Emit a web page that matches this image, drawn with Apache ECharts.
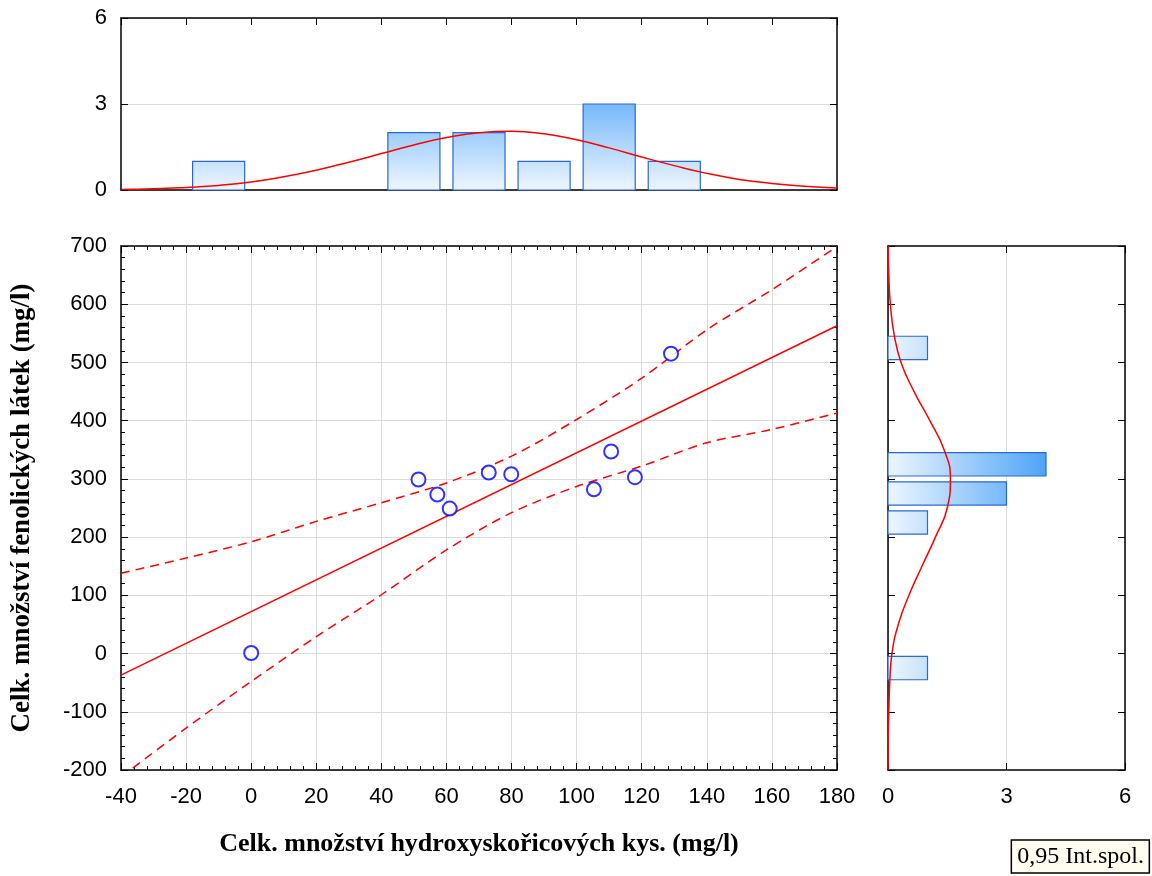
<!DOCTYPE html>
<html>
<head>
<meta charset="utf-8">
<script src="https://cdn.jsdelivr.net/npm/echarts@6/dist/echarts.min.js"></script>
<style>
  html, body { margin: 0; padding: 0; background: #fff; }
  #main { width: 1152px; height: 876px; }
</style>
</head>
<body>
<div id="main"></div>
<script>
// scatter points: hydroxycinnamic acids (x) vs phenolics (y)
var pointX = [0, 51.4, 57.2, 61.0, 73.0, 79.9, 105.3, 110.6, 117.9, 129.0];
var pointY = [1, 299, 273, 249, 311, 308, 282, 347, 303, 515];

// regression line and 0.95 confidence band, read at x = -40..180
var fitX = [-40, 180];
var fitY = [-37, 563];
var bandX = [-40, -20, 0, 20, 40, 60, 80, 100, 120, 140, 160, 180];
var bandUpper = [138, 164, 192, 227, 259, 293, 339, 402, 473, 556, 625, 699];
var bandLower = [-212, -128, -48, 29, 101, 178, 242, 287, 322, 362, 385, 413];

// histogram of x (top)
var histXCenter = [-10, 50, 70, 90, 110, 130];
var histXCount = [1, 2, 2, 1, 3, 1];
var curveX = [-40, -30, -20, -10, 0, 10, 20, 30, 40, 50, 60, 70, 80, 90, 100, 110, 120, 130, 140, 150, 160, 170, 180];
var curveXVal = [0.02, 0.04, 0.09, 0.16, 0.28, 0.46, 0.69, 0.97, 1.27, 1.57, 1.83, 2.0, 2.05, 1.96, 1.75, 1.47, 1.15, 0.85, 0.58, 0.37, 0.23, 0.13, 0.07];

// histogram of y (right)
var histYCenter = [-25, 225, 275, 325, 525];
var histYCount = [1, 1, 3, 4, 1];
var curveY = [-200, -150, -100, -50, 0, 50, 100, 150, 200, 250, 300, 350, 400, 450, 500, 550, 600, 650, 700];
var curveYVal = [0.001, 0.005, 0.02, 0.045, 0.1, 0.26, 0.53, 0.86, 1.2, 1.5, 1.58, 1.42, 1.06, 0.66, 0.33, 0.15, 0.06, 0.02, 0.005];

var xBinHalf = 8, yBinHalf = 20;

function zip(a, b) { return a.map(function (v, i) { return [v, b[i]]; }); }

var lab = { color: '#000', fontFamily: 'Liberation Sans', fontSize: 22 };
var titleFont = { fontFamily: 'Liberation Serif', fontWeight: 'bold', fontSize: 26, color: '#000' };

function axis(extra) {
  var base = {
    type: 'value',
    axisLine: { show: true, onZero: false, lineStyle: { color: '#000', width: 1.5 } },
    axisTick: { show: true, inside: true, length: 7, lineStyle: { color: '#000', width: 1 } },
    minorTick: { show: false },
    axisLabel: { show: false },
    splitLine: { show: false }
  };
  for (var k in extra) base[k] = extra[k];
  return base;
}

var minor = { show: true, splitNumber: 5, length: 4, lineStyle: { color: '#000' } };
var grey = { show: true, lineStyle: { color: '#dcdcdc', width: 1 } };

var option = {
  animation: false,
  backgroundColor: '#fff',
  title: {
    text: '0,95 Int.spol.',
    right: 2, bottom: 3,
    backgroundColor: '#fffcf0',
    borderColor: '#000', borderWidth: 1.5,
    padding: [5, 6, 4, 6],
    textStyle: { fontFamily: 'Liberation Serif', fontWeight: 'normal', fontSize: 24, color: '#000' }
  },
  grid: [
    { left: 121, top: 18, width: 716, height: 172 },
    { left: 121, top: 246, width: 716, height: 524 },
    { left: 888, top: 246, width: 237, height: 524 }
  ],
  xAxis: [
    axis({ gridIndex: 0, position: 'bottom', min: -40, max: 180, interval: 20, axisTick: { show: false } }),
    axis({ gridIndex: 0, position: 'top', min: -40, max: 180, interval: 20 }),
    axis({ gridIndex: 1, position: 'bottom', min: -40, max: 180, interval: 20, minorTick: minor,
      axisLabel: Object.assign({ show: true, margin: 16 }, lab), splitLine: grey,
      name: 'Celk. množství hydroxyskořicových kys. (mg/l)', nameLocation: 'middle', nameGap: 61,
      nameTextStyle: titleFont }),
    axis({ gridIndex: 1, position: 'top', min: -40, max: 180, interval: 20, minorTick: minor }),
    axis({ gridIndex: 2, position: 'bottom', min: 0, max: 6, interval: 3,
      axisLabel: Object.assign({ show: true, margin: 16 }, lab), splitLine: grey }),
    axis({ gridIndex: 2, position: 'top', min: 0, max: 6, interval: 3 })
  ],
  yAxis: [
    axis({ gridIndex: 0, position: 'left', min: 0, max: 6, interval: 3,
      axisLabel: Object.assign({ show: true, margin: 14 }, lab), splitLine: grey }),
    axis({ gridIndex: 0, position: 'right', min: 0, max: 6, interval: 3 }),
    axis({ gridIndex: 1, position: 'left', min: -200, max: 700, interval: 100, minorTick: minor,
      axisLabel: Object.assign({ show: true, margin: 14 }, lab), splitLine: grey,
      name: 'Celk. množství fenolických látek (mg/l)', nameLocation: 'middle', nameGap: 85,
      nameTextStyle: Object.assign({}, titleFont, { fontSize: 27 }) }),
    axis({ gridIndex: 1, position: 'right', min: -200, max: 700, interval: 100, minorTick: minor }),
    axis({ gridIndex: 2, position: 'left', min: -200, max: 700, interval: 100 }),
    axis({ gridIndex: 2, position: 'right', min: -200, max: 700, interval: 100 })
  ],
  series: [
    { type: 'line', xAxisIndex: 2, yAxisIndex: 2, data: zip(bandX, bandUpper), smooth: 0.3, symbol: 'none',
      lineStyle: { color: '#ff0000', width: 1.5, type: [9, 6] } },
    { type: 'line', xAxisIndex: 2, yAxisIndex: 2, data: zip(bandX, bandLower), smooth: 0.3, symbol: 'none',
      lineStyle: { color: '#ff0000', width: 1.5, type: [9, 6] } },
    { type: 'line', xAxisIndex: 2, yAxisIndex: 2, data: zip(fitX, fitY), symbol: 'none',
      lineStyle: { color: '#ff0000', width: 1.5 } },
    { type: 'scatter', xAxisIndex: 2, yAxisIndex: 2, data: zip(pointX, pointY),
      symbol: 'emptyCircle', symbolSize: 14, itemStyle: { color: '#0000ff', borderWidth: 1.8 }, z: 5 },
    { type: 'custom', xAxisIndex: 0, yAxisIndex: 0, data: zip(histXCenter, histXCount),
      renderItem: function (params, api) {
        var c = api.value(0), n = api.value(1);
        var p0 = api.coord([c - xBinHalf, n]), p1 = api.coord([c + xBinHalf, 0]);
        var g0 = api.coord([0, 0]), g1 = api.coord([0, 4]);
        return { type: 'rect', shape: { x: p0[0], y: p0[1], width: p1[0] - p0[0], height: p1[1] - p0[1] },
          style: { fill: new echarts.graphic.LinearGradient(0, g0[1], 0, g1[1],
            [{ offset: 0, color: '#eef6ff' }, { offset: 1, color: '#4ea4f8' }], true),
            stroke: '#2a68d8', lineWidth: 1.2 } };
      } },
    { type: 'line', xAxisIndex: 0, yAxisIndex: 0, data: zip(curveX, curveXVal), smooth: true, symbol: 'none',
      lineStyle: { color: '#ff0000', width: 1.5 }, z: 4 },
    { type: 'custom', xAxisIndex: 4, yAxisIndex: 4, data: zip(histYCount, histYCenter),
      renderItem: function (params, api) {
        var n = api.value(0), c = api.value(1);
        var p0 = api.coord([0, c + yBinHalf]), p1 = api.coord([n, c - yBinHalf]);
        var g0 = api.coord([0, 0]), g1 = api.coord([4, 0]);
        return { type: 'rect', shape: { x: p0[0], y: p0[1], width: p1[0] - p0[0], height: p1[1] - p0[1] },
          style: { fill: new echarts.graphic.LinearGradient(g0[0], 0, g1[0], 0,
            [{ offset: 0, color: '#eef6ff' }, { offset: 1, color: '#4ea4f8' }], true),
            stroke: '#2a68d8', lineWidth: 1.2 } };
      } },
    { type: 'line', xAxisIndex: 4, yAxisIndex: 4, data: zip(curveYVal, curveY), smooth: true, symbol: 'none',
      lineStyle: { color: '#ff0000', width: 1.5 }, z: 4 }
  ]
};

echarts.init(document.getElementById('main')).setOption(option);
</script>
</body>
</html>
